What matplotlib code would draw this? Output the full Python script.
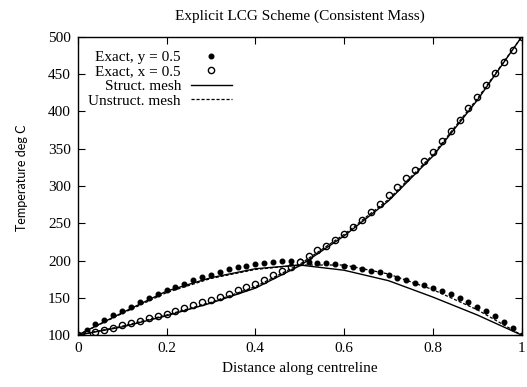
import numpy as np
import matplotlib
matplotlib.use("Agg")
import matplotlib.pyplot as plt

plt.rcParams['font.family'] = ['Liberation Serif', 'DejaVu Serif']
plt.rcParams['font.size'] = 11

# exact solution points, every 0.02 along the centreline
x_exact = np.round(np.arange(0, 1.0001, 0.02), 2)
exact_y05 = [100, 107, 115, 120, 127, 132, 138, 144, 150, 155, 161, 165, 169,
             174, 178, 181, 185, 189, 191, 193, 195, 197, 198, 199, 199, 200,
             198, 197, 197, 195, 193, 191, 188, 186, 184, 180, 177, 174, 170,
             167, 163, 159, 155, 150, 144, 138, 133, 126, 118, 109, 100]
exact_x05 = [100, 102, 104, 107, 110, 113, 116, 119, 123, 126, 129, 133, 137,
             140, 144, 147, 151, 155, 160, 164, 169, 174, 180, 186, 192, 198,
             206, 214, 220, 227, 236, 245, 255, 265, 276, 288, 299, 310, 322,
             334, 346, 360, 374, 389, 404, 419, 435, 451, 466, 482, 500]

# mesh results at the nodes
x_mesh = [0, 0.1, 0.2, 0.3, 0.4, 0.5, 0.6, 0.7, 0.8, 0.9, 1.0]
struct_y05 = [100, 130, 159, 177, 189, 194, 187, 173, 151, 127, 100]
unstruct_y05 = [100, 129, 157, 176, 188, 194, 194, 182, 161, 134, 100]
struct_x05 = [100, 111, 126, 143, 163, 193, 233, 280, 340, 415, 500]
unstruct_x05 = [100, 112, 127, 144, 165, 195, 235, 282, 342, 417, 500]

fig = plt.figure(figsize=(5.27, 3.87), dpi=100)
ax = fig.add_axes([0.1475, 0.134, 0.8425, 0.771])

ax.plot(x_exact, exact_y05, 'o', color='black', ms=3.3, label='Exact, y = 0.5')
ax.plot(x_exact, exact_x05, 'o', mfc='white', mec='black', ms=4.5, mew=1.0,
        label='Exact, x = 0.5')
ax.plot(x_mesh, struct_y05, '-', color='black', lw=1.0, label='Struct. mesh')
ax.plot(x_mesh, unstruct_y05, '--', color='black', lw=0.9, dashes=(2.5, 1.5),
        label='Unstruct. mesh')
ax.plot(x_mesh, struct_x05, '-', color='black', lw=1.0)
ax.plot(x_mesh, unstruct_x05, '--', color='black', lw=0.9, dashes=(2.5, 1.5))

ax.set_xlim(0, 1)
ax.set_ylim(100, 500)
ax.set_xticks([0, 0.2, 0.4, 0.6, 0.8, 1])
ax.set_xticklabels(['0', '0.2', '0.4', '0.6', '0.8', '1'])
ax.set_yticks(range(100, 501, 50))
ax.tick_params(direction='in', top=True, right=True, length=5, width=0.8,
               labelsize=11, pad=5)
for s in ax.spines.values():
    s.set_linewidth(1.0)

ax.set_title('Explicit LCG Scheme (Consistent Mass)', fontsize=11, pad=12)
ax.set_xlabel('Distance along centreline', fontsize=11, labelpad=5)
ax.set_ylabel('Temperature deg C', fontsize=9, family=['Lato', 'DejaVu Sans'])
ax.yaxis.set_label_coords(-0.112, 0.527)

ax.legend(loc='upper left', bbox_to_anchor=(0.0, 0.99), frameon=False,
          markerfirst=False, handlelength=2.7, handletextpad=0.65,
          labelspacing=0.05, fontsize=11, borderaxespad=0.3)

fig.savefig('out.png', dpi=100)
